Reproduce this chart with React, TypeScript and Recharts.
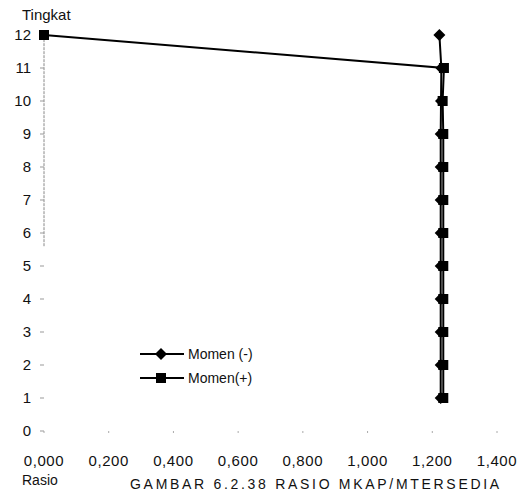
import React from 'react';
import { ScatterChart, Scatter, XAxis, YAxis, ReferenceLine } from 'recharts';

// storey levels and moment ratios
const tingkat = [1, 2, 3, 4, 5, 6, 7, 8, 9, 10, 11, 12];
const momenNeg = [1.226, 1.226, 1.226, 1.226, 1.226, 1.226, 1.226, 1.226, 1.226, 1.227, 1.228, 1.222];
const momenPos = [1.234, 1.234, 1.234, 1.234, 1.234, 1.234, 1.234, 1.234, 1.234, 1.232, 1.236, 0.0];
const xTicks = [0, 0.2, 0.4, 0.6, 0.8, 1.0, 1.2, 1.4];
const xTickLabels = ['0,000', '0,200', '0,400', '0,600', '0,800', '1,000', '1,200', '1,400'];
const yTicks = [0, 1, 2, 3, 4, 5, 6, 7, 8, 9, 10, 11, 12];

const negData = tingkat.map((t, i) => ({ rasio: momenNeg[i], tingkat: t }));
const posData = tingkat.map((t, i) => ({ rasio: momenPos[i], tingkat: t }));

const FONT = 'Liberation Sans, Arial, sans-serif';

const Diamond = (props: any) => {
  const { cx, cy } = props;
  const r = 6;
  return <path d={`M${cx},${cy - r}L${cx + r},${cy}L${cx},${cy + r}L${cx - r},${cy}Z`} fill="#000" />;
};

const Square = (props: any) => {
  const { cx, cy } = props;
  const s = 10;
  return <rect x={cx - s / 2} y={cy - s / 2} width={s} height={s} fill="#000" />;
};

const LegendItem = ({ label, diamond }: { label: string; diamond: boolean }) => (
  <div style={{ display: 'flex', alignItems: 'center', height: 24 }}>
    <svg width={46} height={14}>
      <line x1={0} y1={7} x2={44} y2={7} stroke="#000" strokeWidth={2} />
      {diamond ? <Diamond cx={21} cy={7} /> : <Square cx={21} cy={7} />}
    </svg>
    <span style={{ marginLeft: 2 }}>{label}</span>
  </div>
);

export default function App() {
  return (
    <div style={{ position: 'absolute', left: 0, top: 0, width: 523, height: 492, background: '#fff', fontFamily: FONT, color: '#111', overflow: 'hidden' }}>
      <ScatterChart width={523} height={492} margin={{ top: 35, right: 26, bottom: 31, left: 0 }}>
        <XAxis
          type="number"
          dataKey="rasio"
          domain={[0, 1.4]}
          ticks={xTicks}
          interval={0}
          axisLine={false}
          tickLine={{ stroke: '#aaa' }}
          tickSize={2}
          tickMargin={22}
          tickFormatter={(v: number) => xTickLabels[xTicks.findIndex((t) => Math.abs(t - v) < 1e-6)]}
          tick={{ fill: '#111', fontSize: 15, fontFamily: FONT, letterSpacing: 0.6 }}
        />
        <YAxis
          type="number"
          dataKey="tingkat"
          domain={[0, 12]}
          ticks={yTicks}
          interval={0}
          width={44}
          axisLine={false}
          tickLine={{ stroke: '#999' }}
          tickSize={4}
          tickMargin={9}
          tick={{ fill: '#111', fontSize: 15, fontFamily: FONT }}
        />
        <ReferenceLine
          segment={[{ x: 0, y: 5.6 }, { x: 0, y: 12 }]}
          stroke="#888"
          strokeDasharray="3 1"
          ifOverflow="visible"
        />
        <Scatter
          name="Momen(+)"
          data={posData}
          line={{ stroke: '#000', strokeWidth: 2 }}
          shape={<Square />}
          isAnimationActive={false}
        />
        <Scatter
          name="Momen (-)"
          data={negData}
          line={{ stroke: '#000', strokeWidth: 2 }}
          shape={<Diamond />}
          isAnimationActive={false}
        />
      </ScatterChart>
      <div style={{ position: 'absolute', left: 22, top: 6, fontSize: 15, lineHeight: '18px' }}>Tingkat</div>
      <div style={{ position: 'absolute', left: 140, top: 342, fontSize: 14 }}>
        <LegendItem label="Momen (-)" diamond />
        <LegendItem label="Momen(+)" diamond={false} />
      </div>
      <div style={{ position: 'absolute', left: 22, top: 473, fontSize: 14, lineHeight: '14px' }}>Rasio</div>
      <div style={{ position: 'absolute', left: 130, top: 477, fontSize: 14, lineHeight: '14px', letterSpacing: 2.7, whiteSpace: 'nowrap' }}>
        GAMBAR 6.2.38 RASIO MKAP/MTERSEDIA
      </div>
    </div>
  );
}
